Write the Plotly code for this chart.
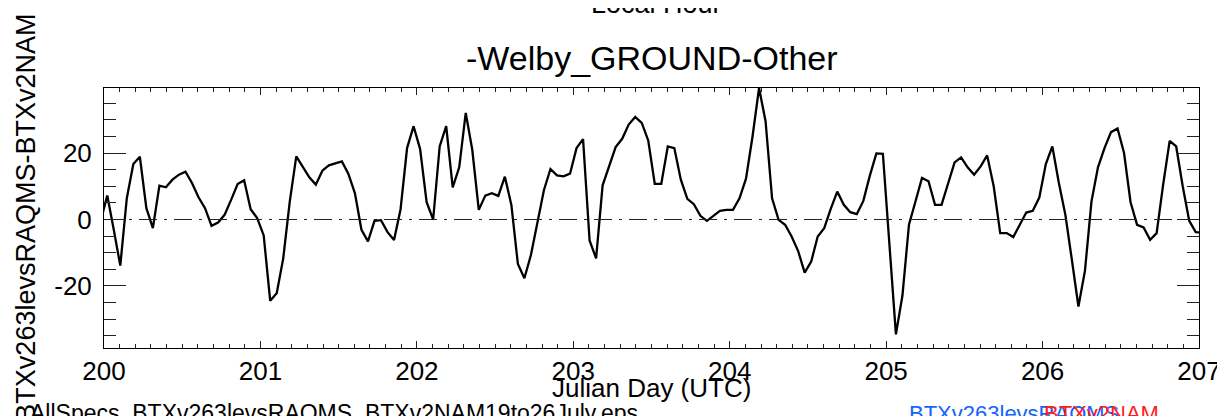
import plotly.graph_objects as go

# ---- data (hourly) ----
start_day = 200.0
first_hour = -0.5          # first sample is half an hour before day 200
step_hours = 1.0
diff_values = [
    -0.4, 7.2, -3.1, -13.9, 6.4, 16.7, 18.9, 3.4, -2.6, 10.2,
    9.7, 12.0, 13.5, 14.4, 11.0, 6.7, 3.4, -1.9, -0.9, 1.4,
    5.9, 10.7, 11.8, 3.1, 0.4, -4.8, -24.5, -22.2, -11.7, 5.4,
    19.0, 16.0, 12.7, 10.5, 14.7, 16.3, 17.0, 17.5, 13.7, 7.9,
    -3.1, -6.6, -0.4, -0.2, -3.8, -6.2, 3.1, 21.5, 28.1, 21.2,
    5.2, 0.0, 22.0, 28.1, 9.7, 15.7, 32.1, 21.0, 2.9, 7.2,
    7.9, 7.1, 12.9, 4.4, -13.4, -17.7, -10.7, -1.3, 8.9, 15.2,
    13.3, 13.0, 13.8, 21.5, 24.2, -6.3, -11.7, 10.3, 16.0, 21.8,
    24.3, 28.6, 30.9, 29.1, 23.8, 10.7, 10.7, 22.0, 21.5, 12.0,
    6.2, 4.6, 1.1, -0.4, 1.1, 2.6, 2.9, 2.9, 6.4, 12.3,
    25.0, 39.6, 29.6, 6.4, -0.1, -1.6, -5.1, -9.5, -16.0, -12.7,
    -5.1, -2.6, 3.2, 8.4, 4.4, 2.2, 1.6, 5.6, 13.2, 19.9,
    19.8, -6.6, -34.6, -22.9, -1.6, 5.4, 12.5, 11.5, 4.4, 4.4,
    10.7, 17.2, 18.7, 15.7, 13.5, 16.0, 19.3, 10.0, -4.1, -4.1,
    -5.3, -1.6, 2.1, 2.6, 6.6, 16.7, 22.0, 11.0, 1.4, -12.2,
    -26.2, -15.5, 5.4, 15.7, 21.5, 26.3, 27.4, 20.0, 5.2, -1.6,
    -2.4, -6.1, -4.1, 10.5, 23.7, 22.0, 10.0, -0.4, -3.8, -4.0,
]
julian_days = [start_day + (first_hour + i * step_hours) / 24.0 for i in range(len(diff_values))]

x_tick_values = [200, 201, 202, 203, 204, 205, 206, 207]
x_tick_labels = ["200", "201", "202", "203", "204", "205", "206", "207"]
y_tick_values = [-20, 0, 20]
y_tick_labels = ["-20", "0", "20"]

title_text = "-Welby_GROUND-Other"
top_text = "Local Hour"
x_title = "Julian Day (UTC)"
y_title = "BTXv263levsRAQMS-BTXv2NAM"
file_text = "AllSpecs_BTXv263levsRAQMS_BTXv2NAM19to26July.eps"
legend_blue = "BTXv263levsRAQMS"
legend_red = "BTXv2NAM"

FONT = "Liberation Sans, Arial, Helvetica, sans-serif"

W, H = 1225, 416
L, R, T, B = 96, 25, 80, 76
PW, PH = W - L - R, H - T - B


def px(xp):
    return (xp - L) / PW


def py(yp):
    return (H - B - yp) / PH


fig = go.Figure()
fig.add_trace(go.Scatter(
    x=julian_days, y=diff_values, mode="lines",
    line=dict(color="black", width=2.3), showlegend=False,
    hoverinfo="skip",
))

fig.add_hline(y=0, line=dict(color="#222222", width=1, dash="18px,7px,3px,7px"))

axis_common = dict(
    showline=True, linecolor="black", linewidth=1, mirror="ticks",
    ticks="inside", tickcolor="#222222", tickwidth=1,
    showgrid=False, zeroline=False,
    tickfont=dict(family=FONT, size=26, color="black"),
)

fig.update_xaxes(
    range=[200, 207], tickmode="array", tickvals=x_tick_values, ticktext=x_tick_labels,
    ticklen=7, ticklabelstandoff=0,
    minor=dict(dtick=0.1, ticklen=4, ticks="inside", tickcolor="#222222", showgrid=False),
    **axis_common,
)
fig.update_yaxes(
    range=[-38.7, 39.6], tickmode="array", tickvals=y_tick_values, ticktext=y_tick_labels,
    ticklen=22, ticklabelstandoff=6,
    minor=dict(dtick=5, ticklen=12, ticks="inside", tickcolor="#222222", showgrid=False),
    **axis_common,
)

annotations = [
    dict(text=title_text, x=px(648), y=py(71), xanchor="center", yanchor="bottom",
         font=dict(family=FONT, size=34, color="black")),
    dict(text=top_text, x=px(653), y=py(13), xanchor="center", yanchor="bottom",
         font=dict(family=FONT, size=27, color="black")),
    dict(text=x_title, x=px(648), y=py(397), xanchor="center", yanchor="bottom",
         font=dict(family=FONT, size=26, color="black")),
    dict(text=y_title, x=px(17), y=py(210), xanchor="center", yanchor="middle",
         textangle=-90, font=dict(family=FONT, size=27, color="black")),
    dict(text=file_text, x=px(19), y=py(420), xanchor="left", yanchor="bottom",
         font=dict(family=FONT, size=23, color="black")),
    dict(text=legend_blue, x=px(906), y=py(420), xanchor="left", yanchor="bottom",
         font=dict(family=FONT, size=22, color="#1464FF")),
    dict(text=legend_red, x=px(1042), y=py(420), xanchor="left", yanchor="bottom",
         font=dict(family=FONT, size=22, color="#FF1E1E")),
]
for a in annotations:
    a.update(xref="paper", yref="paper", showarrow=False)

fig.update_layout(
    width=W, height=H, autosize=False,
    margin=dict(l=L, r=R, t=T, b=B, pad=0),
    paper_bgcolor="white", plot_bgcolor="white",
    annotations=annotations,
    font=dict(family=FONT, color="black"),
)

fig.write_html("out.html")
